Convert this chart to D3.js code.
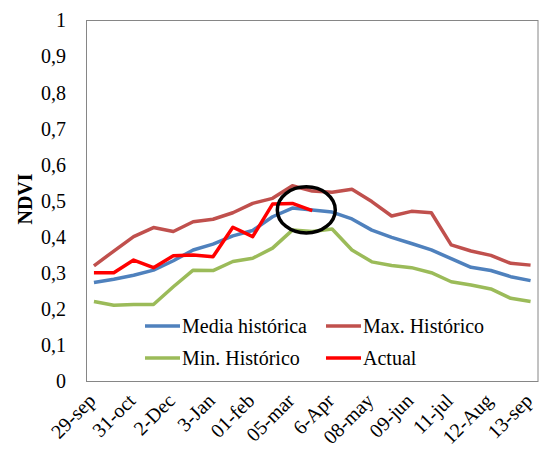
<!DOCTYPE html>
<html><head><meta charset="utf-8">
<script src="https://cdn.jsdelivr.net/npm/d3@7"></script>
<style>
html,body{margin:0;padding:0;background:#fff;}
</style></head>
<body><svg id="c" width="542" height="449"></svg>
<script>
const categories = ["29-sep","15-oct","31-oct","16-nov","2-Dec","18-dec","3-Jan","17-jan","01-feb","17-feb","05-mar","21-mar","6-Apr","22-apr","08-may","24-may","09-jun","25-jun","11-jul","27-jul","12-Aug","28-aug","13-sep"];
const tickLabels = ["29-sep","31-oct","2-Dec","3-Jan","01-feb","05-mar","6-Apr","08-may","09-jun","11-jul","12-Aug","13-sep"];
const yTicks = [0,0.1,0.2,0.3,0.4,0.5,0.6,0.7,0.8,0.9,1];
const mediaHistorica = [0.273,0.282,0.293,0.307,0.333,0.363,0.379,0.402,0.417,0.455,0.479,0.474,0.468,0.449,0.418,0.398,0.381,0.363,0.339,0.315,0.306,0.289,0.278];
const maxHistorico = [0.319,0.360,0.400,0.425,0.414,0.441,0.448,0.466,0.492,0.506,0.541,0.526,0.523,0.531,0.497,0.457,0.470,0.466,0.377,0.360,0.348,0.326,0.321];
const minHistorico = [0.220,0.210,0.212,0.212,0.261,0.307,0.306,0.331,0.340,0.368,0.418,0.414,0.421,0.363,0.330,0.320,0.314,0.300,0.275,0.266,0.255,0.229,0.220];
const actual = [0.300,0.300,0.335,0.314,0.347,0.349,0.344,0.426,0.400,0.490,0.492,0.472];
const seriesNames = ["Media histórica","Max. Histórico","Min. Histórico","Actual"];
const seriesColors = ["#4F81BD","#C0504D","#9BBB59","#FF0000"];
// highlighted region (category index, value) and half-extents
const highlight = {index:10.7, value:0.474, halfSteps:1.46, halfValue:0.064};

const FONT = "'Liberation Serif', 'Times New Roman', Tinos, 'DejaVu Serif', serif";
const svg = d3.select("#c");
const L=86, R=538.5, T=20, B=381;
const x = d3.scalePoint().domain(categories).range([L,R]).padding(0.4);
const y = d3.scaleLinear().domain([0,1]).range([B,T]);
const step = x.step();
const xi = i => x(categories[0]) + i*step;

// frame
svg.append("rect").attr("x",L+0.5).attr("y",T+0.5).attr("width",R-L-1).attr("height",B-T)
  .attr("fill","none").attr("stroke","#868686").attr("stroke-width",1);

// y axis
const ya = svg.append("g").attr("transform",`translate(${L},0)`)
  .call(d3.axisLeft(y).tickValues(yTicks).tickSize(0).tickPadding(20)
    .tickFormat(d => d===0?"0":d===1?"1":d.toFixed(1).replace(".",",")));
ya.select(".domain").remove();
ya.attr("font-family",null).attr("font-size",null);
ya.selectAll("text").style("font-size","20px").style("font-family",FONT).attr("fill","#000").attr("dy","0.34em");

// y title
svg.append("text").attr("transform","translate(32,199) rotate(-90)")
  .attr("text-anchor","middle").style("font-family",FONT).style("font-size","20px").style("font-weight","bold").text("NDVI");

// x labels
const xg = svg.append("g");
categories.forEach((c,i)=>{
  if(!tickLabels.includes(c)) return;
  xg.append("text").attr("transform",`translate(${x(c)+3},${B+21}) rotate(-45)`)
    .attr("text-anchor","end").style("font-family",FONT).style("font-size","20px").text(c);
});

// lines
const line = d3.line().x((d,i)=>x(categories[i])).y(d=>y(d));
const allSeries = [mediaHistorica,maxHistorico,minHistorico,actual];
[1,0,2,3].forEach(k=>{
  svg.append("path").datum(allSeries[k]).attr("d",line).attr("fill","none")
    .attr("stroke",seriesColors[k]).attr("stroke-width",3.5).attr("stroke-linejoin","round");
});

// highlight ellipse
svg.append("ellipse").attr("cx",xi(highlight.index)).attr("cy",y(highlight.value))
  .attr("rx",highlight.halfSteps*step).attr("ry",y(0)-y(highlight.halfValue))
  .attr("fill","none").attr("stroke","#000").attr("stroke-width",3.5);

// legend
const legPos = [[145,326],[326,326],[145,358],[326,358]];
seriesNames.forEach((n,k)=>{
  const [lx,ly]=legPos[k];
  svg.append("line").attr("x1",lx).attr("x2",lx+35).attr("y1",ly).attr("y2",ly)
    .attr("stroke",seriesColors[k]).attr("stroke-width",3.5);
  svg.append("text").attr("x",lx+37).attr("y",ly).attr("dy","0.34em")
    .style("font-family",FONT).style("font-size","20px").text(n);
});
</script></body></html>
